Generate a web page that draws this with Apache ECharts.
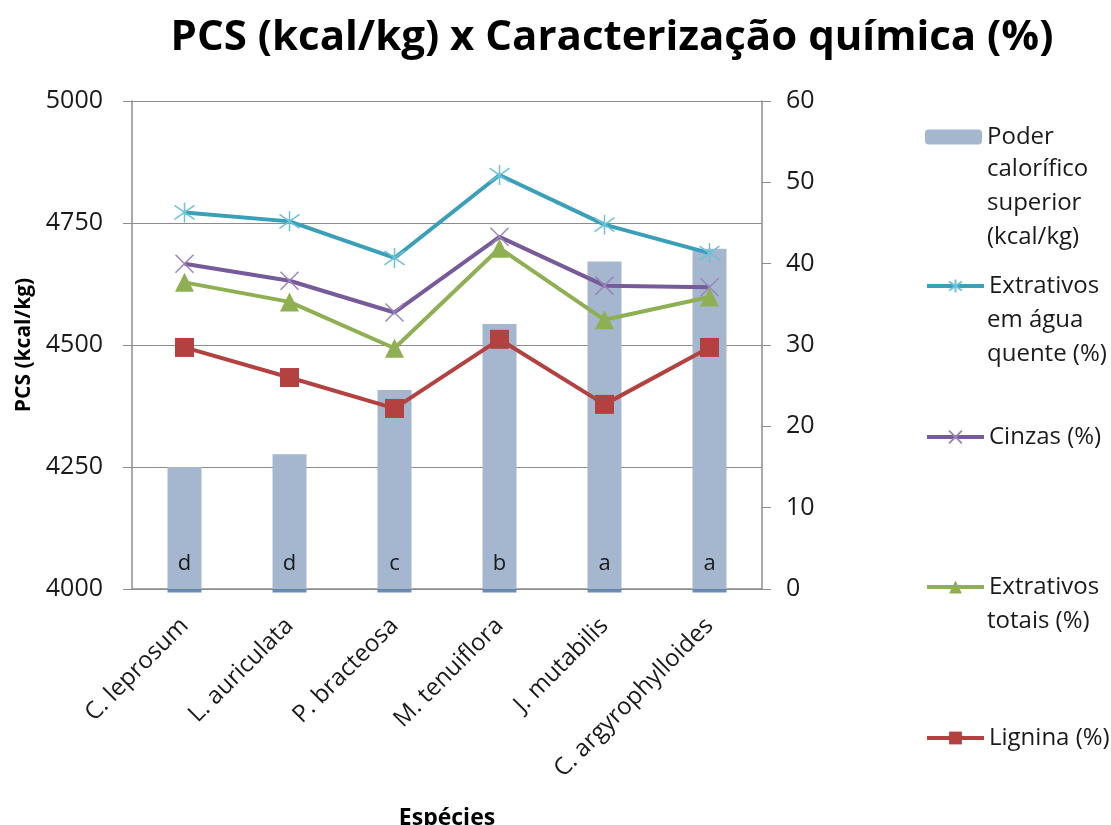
<!DOCTYPE html>
<html><head><meta charset="utf-8">
<script src="https://cdn.jsdelivr.net/npm/echarts@6/dist/echarts.min.js"></script>
<style>html,body{margin:0;padding:0;background:#fff}#c{width:1111px;height:825px}</style>
</head><body><div id="c"></div>
<script>
const categories = ["C. leprosum","L. auriculata","P. bracteosa","M. tenuiflora","J. mutabilis","C. argyrophylloides"];
const pcs = [4250, 4276, 4408, 4543, 4671, 4697];
const pcsLetters = ["d","d","c","b","a","a"];
const extAguaQuente = [46.3, 45.2, 40.7, 50.9, 44.8, 41.3];
const cinzas = [40.0, 37.9, 34.0, 43.3, 37.3, 37.1];
const extTotais = [37.7, 35.3, 29.6, 41.9, 33.1, 35.9];
const lignina = [29.7, 26.0, 22.2, 30.7, 22.7, 29.7];
const leftTicks = {min: 4000, max: 5000, interval: 250};
const rightTicks = {min: 0, max: 60, interval: 10};
const names = ["Poder calorífico superior (kcal/kg)", "Extrativos em água quente (%)", "Cinzas (%)", "Extrativos totais (%)", "Lignina (%)"];
const legendLines = [["Poder","calorífico","superior","(kcal/kg)"],["Extrativos","em água","quente (%)"],["Cinzas (%)"],["Extrativos","totais (%)"],["Lignina (%)"]];

const FONT = 'Open Sans';
const starPath = 'path://M50,0L50,100M15,15L85,85M85,15L15,85';
const xPath = 'path://M10,10L90,90M90,10L10,90';
const legendTops = [137, 286, 437, 587, 738];
const lineTops = [135, 286, 437, 587, 738];
const lineH = 34;
const LFS = 24;

const chart = echarts.init(document.getElementById('c'));
const legends = names.map((n, i) => ({
  data: [n], left: 925, top: legendTops[i] - 13, orient: 'vertical', padding: 0,
  itemWidth: 57, itemHeight: i === 0 ? 15 : 16, itemGap: 0,
  lineStyle: {width: 4},
  formatter: () => legendLines[i][0],
  textStyle: {fontFamily: FONT, fontSize: LFS, color: '#1a1a1a', lineHeight: 26},
  selectedMode: false
}));
const graphics = [];
legendLines.forEach((lines, i) => {
  lines.slice(1).forEach((t, j) => {
    graphics.push({type: 'text', left: 987, top: lineTops[i] + lineH * (j + 1) - 12,
      style: {text: t, font: LFS + 'px "' + FONT + '"', fill: '#1a1a1a'}});
  });
});

chart.setOption({
  animation: false,
  title: {text: 'PCS (kcal/kg) x Caracterização química (%)', left: 607, top: 12, textAlign: 'center',
    textStyle: {fontFamily: FONT, fontWeight: 'bold', fontSize: 42, color: '#000'}},
  legend: legends,
  graphic: graphics,
  grid: {left: 132, right: 349, top: 101, bottom: 236, outerBoundsMode: 'none', containLabel: false},
  xAxis: {type: 'category', data: categories, name: 'Espécies', nameLocation: 'middle', nameGap: 218,
    nameTextStyle: {fontFamily: FONT, fontWeight: 'bold', fontSize: 23, color: '#000'},
    axisLine: {lineStyle: {color: '#8c8c8c', width: 1.5}}, axisTick: {show: false},
    axisLabel: {rotate: 45, interval: 0, margin: 33, fontFamily: FONT, fontSize: 24, color: '#1a1a1a'}},
  yAxis: [
    {type: 'value', min: leftTicks.min, max: leftTicks.max, interval: leftTicks.interval,
     name: 'PCS (kcal/kg)', nameLocation: 'middle', nameGap: 95,
     nameTextStyle: {fontFamily: FONT, fontWeight: 'bold', fontSize: 21, color: '#000'},
     axisLine: {show: true, lineStyle: {color: '#8c8c8c', width: 1.5}},
     axisTick: {show: true, length: 9, lineStyle: {color: '#8c8c8c'}},
     splitLine: {show: true, lineStyle: {color: '#8c8c8c', width: 1.2}},
     axisLabel: {margin: 29, fontFamily: FONT, fontSize: 25, color: '#1a1a1a', formatter: v => String(v)}},
    {type: 'value', min: rightTicks.min, max: rightTicks.max, interval: rightTicks.interval, position: 'right',
     axisLine: {show: true, lineStyle: {color: '#8c8c8c', width: 1.5}},
     axisTick: {show: true, length: 9, lineStyle: {color: '#8c8c8c'}},
     splitLine: {show: false},
     axisLabel: {margin: 24, fontFamily: FONT, fontSize: 25, color: '#1a1a1a'}}
  ],
  series: [
    {name: names[0], type: 'bar', yAxisIndex: 0, data: pcs, barWidth: 34, z: 1,
     itemStyle: {color: '#a5b6cf'},
     label: {show: true, position: 'insideBottom', distance: 14, fontFamily: FONT, fontSize: 22, color: '#1a1a1a',
       formatter: p => pcsLetters[p.dataIndex]}},
    {name: 'base', type: 'scatter', yAxisIndex: 0, data: pcs.map(() => leftTicks.min), symbol: 'rect',
     symbolSize: [34, 3], symbolOffset: [0, 2], itemStyle: {color: '#3f72b0'}, z: 3, silent: true},
    {name: names[1], type: 'line', yAxisIndex: 1, data: extAguaQuente, symbol: starPath, symbolSize: 20, z: 5,
     lineStyle: {color: '#3a9fb8', width: 4}, itemStyle: {color: '#3a9fb8', borderColor: '#6cc2d8', borderWidth: 1.5}},
    {name: names[2], type: 'line', yAxisIndex: 1, data: cinzas, symbol: xPath, symbolSize: 18, z: 5,
     lineStyle: {color: '#765a9a', width: 4}, itemStyle: {color: '#765a9a', borderColor: '#9a86b8', borderWidth: 1.5}},
    {name: names[3], type: 'line', yAxisIndex: 1, data: extTotais, symbol: 'triangle', symbolSize: 19, z: 5,
     lineStyle: {color: '#8fb052', width: 4}, itemStyle: {color: '#8fb052'}},
    {name: names[4], type: 'line', yAxisIndex: 1, data: lignina, symbol: 'rect', symbolSize: 19, z: 5,
     lineStyle: {color: '#b3413f', width: 4}, itemStyle: {color: '#b3413f'}}
  ]
});
</script></body></html>
